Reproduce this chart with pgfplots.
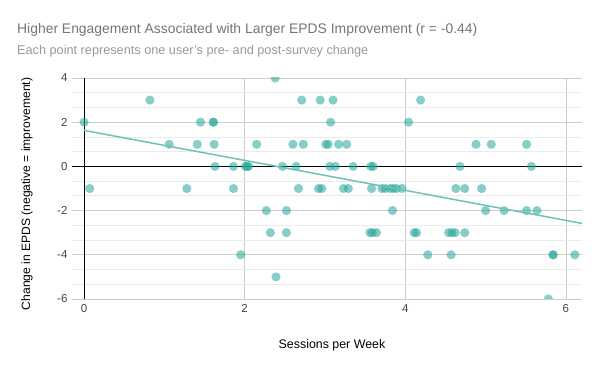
\documentclass[border=0pt]{standalone}
\usepackage{pgfplots}
\pgfplotsset{compat=1.18}
\usepackage{fontspec}
\setmainfont{Liberation Sans}
\definecolor{pt}{RGB}{38,166,154}
\definecolor{trend}{RGB}{108,195,180}
\definecolor{gmaj}{RGB}{204,204,204}
\definecolor{gmin}{RGB}{234,234,234}
\definecolor{ttl}{RGB}{117,117,117}
\definecolor{sub}{RGB}{153,153,153}
\definecolor{tick}{RGB}{68,68,68}
\begin{document}
\begin{tikzpicture}[x=1pt,y=1pt]
\path[use as bounding box] (0,0) rectangle (600,371);
\node[anchor=west,text=ttl,font=\fontsize{13.9}{16}\selectfont,inner sep=0] at (17,341) {Higher Engagement Associated with Larger EPDS Improvement (r = -0.44)};
\node[anchor=west,text=sub,font=\fontsize{12.7}{15}\selectfont,inner sep=0] at (17,320) {Each point represents one user's pre- and post-survey change};
\node[font=\fontsize{12.4}{14}\selectfont,inner sep=0] at (332,26) {Sessions per Week};
\node[rotate=90,font=\fontsize{12.1}{14}\selectfont,inner sep=0] at (27,177) {Change in EPDS (negative = improvement)};
\begin{axis}[
  at={(72pt,72pt)}, anchor=south west,
  width=510pt, height=221pt, scale only axis,
  xmin=-0.15, xmax=6.2, ymin=-6, ymax=4,
  xtick={0,2,4,6}, ytick={-6,-4,-2,0,2,4},
  minor y tick num=2,
  axis line style={draw=none},
  major tick length=0pt, minor tick length=0pt,
  xmajorgrids, ymajorgrids, yminorgrids,
  major grid style={gmaj, line width=0.8pt},
  minor grid style={gmin, line width=0.8pt},
  tick label style={font=\fontsize{11.5}{13}\selectfont, text=tick},
  /pgf/number format/assume math mode=true,
  xticklabel style={yshift=-2pt},
  yticklabel style={xshift=-1pt},
  clip marker paths=true,
]
\draw[black, line width=0.9pt] (axis cs:0,-6) -- (axis cs:0,4);
\draw[black, line width=0.9pt] (axis cs:-0.15,0) -- (axis cs:6.2,0);
\addplot[only marks, color=pt, mark=*, mark size=4.6pt, mark options={draw opacity=0, fill=pt, fill opacity=0.55}] coordinates {
(0,2)(0.82,3)(1.45,2)(1.61,2)(1.61,2)(1.06,1)(1.41,1)(1.62,1)(2.15,1)(1.63,0)(1.86,0)(2.01,0)(2.03,0)(2.05,0)(0.07,-1)(1.28,-1)(1.86,-1)
(2.38,4)(2.71,3)(2.94,3)(3.10,3)(4.19,3)(3.07,2)(4.04,2)(2.60,1)(2.73,1)(3.01,1)(3.04,1)(3.17,1)(3.27,1)
(2.47,0)(2.64,0)(3.06,0)(3.13,0)(3.35,0)(3.57,0)(3.60,0)
(2.67,-1)(2.92,-1)(2.96,-1)(3.23,-1)(3.29,-1)(3.58,-1)(3.71,-1)(3.75,-1)(3.81,-1)(3.85,-1)(3.89,-1)(3.96,-1)
(4.88,1)(5.07,1)(5.51,1)(4.68,0)(5.57,0)(4.63,-1)(4.74,-1)(4.95,-1)
(1.95,-4)
(2.27,-2)(2.52,-2)(3.84,-2)(2.32,-3)(2.52,-3)(3.56,-3)(3.59,-3)(3.64,-3)(4.11,-3)(4.14,-3)(4.28,-4)(2.39,-5)
(5.0,-2)(5.23,-2)(5.51,-2)(5.64,-2)(4.54,-3)(4.58,-3)(4.62,-3)(4.74,-3)(4.57,-4)(5.84,-4)(5.84,-4)(6.11,-4)(5.78,-6)
};
\addplot[trend, line width=1.5pt, no marks] coordinates {(0,1.63) (6.2,-2.58)};
\end{axis}
\end{tikzpicture}
\end{document}
